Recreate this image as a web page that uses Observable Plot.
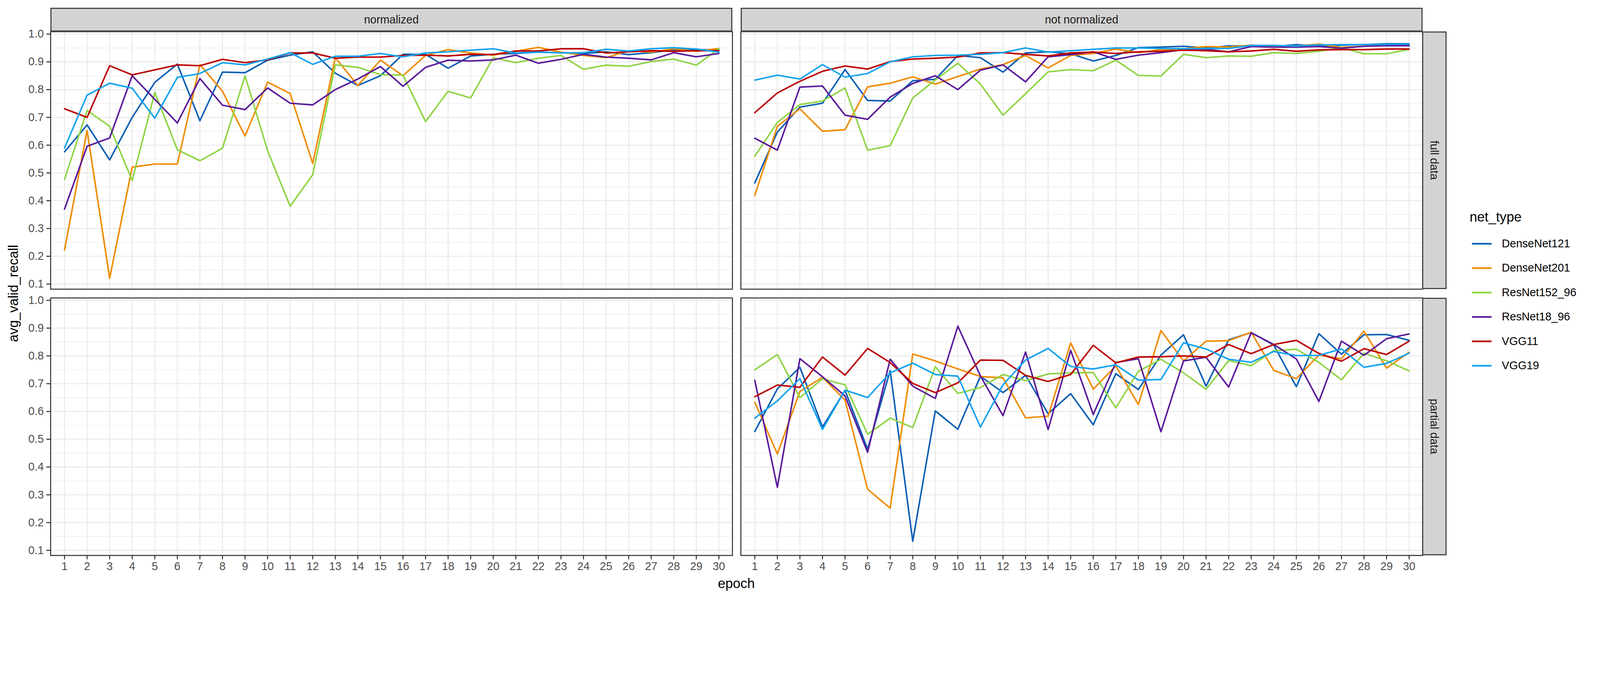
<!DOCTYPE html>
<html>
<head>
<meta charset="utf-8">
<script src="https://cdn.jsdelivr.net/npm/d3@7"></script>
<script src="https://cdn.jsdelivr.net/npm/@observablehq/plot@0.6"></script>
<style>
  html, body { margin: 0; background: white; font-family: "Liberation Sans", Arial, sans-serif; overflow: hidden; }
  #page { position: relative; width: 4724px; height: 1771px; background: white; transform-origin: 0 0; }
  .panel { position: absolute; }
  .strip { position: absolute; background: #d3d3d3; border: 3px solid #333; box-sizing: border-box;
           display: flex; align-items: center; justify-content: center; font-size: 33px; color: #1a1a1a; }
  .strip.v span { writing-mode: vertical-rl; }
  .lab { position: absolute; font-size: 40px; color: black; white-space: nowrap; }
  .key { position: absolute; font-size: 33px; color: black; display: flex; align-items: center; }
  .key i { display: inline-block; width: 58px; height: 5px; margin-right: 30px; }
</style>
</head>
<body>
<div id="page"></div>
<script>
const epochs = d3.range(1, 31);
const nets = ["DenseNet121", "DenseNet201", "ResNet152_96", "ResNet18_96", "VGG11", "VGG19"];
const netColors = ["#0a5fb4", "#f08c00", "#8fd444", "#5a1a9a", "#bb0000", "#14a3ee"];
const yTicks = [0.1, 0.2, 0.3, 0.4, 0.5, 0.6, 0.7, 0.8, 0.9, 1.0];
const yMinor = [0.15, 0.25, 0.35, 0.45, 0.55, 0.65, 0.75, 0.85, 0.95];

// normalized, full data
const normFull = {
  DenseNet121: [0.576,0.673,0.547,0.70,0.826,0.892,0.688,0.863,0.861,0.906,0.924,0.936,0.859,0.815,0.85,0.927,0.927,0.877,0.921,0.927,0.93,0.935,0.933,0.93,0.936,0.926,0.933,0.944,0.944,0.943],
  DenseNet201: [0.223,0.653,0.121,0.521,0.532,0.532,0.89,0.794,0.633,0.827,0.786,0.534,0.915,0.815,0.906,0.85,0.923,0.944,0.932,0.924,0.938,0.952,0.935,0.923,0.915,0.94,0.935,0.947,0.938,0.948],
  ResNet152_96: [0.477,0.725,0.668,0.473,0.79,0.584,0.544,0.589,0.85,0.58,0.38,0.494,0.889,0.88,0.854,0.852,0.685,0.794,0.77,0.915,0.897,0.913,0.923,0.873,0.888,0.884,0.901,0.91,0.888,0.947],
  ResNet18_96: [0.37,0.596,0.626,0.85,0.765,0.68,0.84,0.744,0.728,0.806,0.751,0.745,0.80,0.838,0.883,0.812,0.88,0.906,0.903,0.907,0.924,0.895,0.909,0.927,0.917,0.913,0.907,0.933,0.918,0.93],
  VGG11: [0.731,0.70,0.886,0.853,0.871,0.889,0.886,0.909,0.897,0.907,0.932,0.932,0.913,0.917,0.917,0.923,0.924,0.921,0.927,0.926,0.939,0.939,0.947,0.947,0.932,0.936,0.94,0.938,0.94,0.94],
  VGG19: [0.59,0.78,0.823,0.805,0.697,0.844,0.858,0.897,0.889,0.91,0.933,0.891,0.92,0.92,0.93,0.918,0.932,0.936,0.942,0.947,0.932,0.935,0.932,0.933,0.945,0.939,0.947,0.951,0.946,0.935]
};
// not normalized, full data
const rawFull = {
  DenseNet121: [0.464,0.647,0.737,0.751,0.872,0.761,0.759,0.832,0.837,0.923,0.915,0.863,0.932,0.936,0.929,0.903,0.923,0.951,0.953,0.956,0.95,0.957,0.957,0.955,0.962,0.957,0.96,0.962,0.965,0.965],
  DenseNet201: [0.419,0.668,0.731,0.65,0.656,0.81,0.823,0.846,0.82,0.847,0.874,0.89,0.923,0.878,0.923,0.93,0.946,0.933,0.944,0.947,0.955,0.953,0.96,0.957,0.957,0.964,0.952,0.956,0.962,0.96],
  ResNet152_96: [0.56,0.682,0.746,0.759,0.806,0.582,0.598,0.77,0.835,0.895,0.82,0.708,0.785,0.864,0.872,0.868,0.906,0.851,0.849,0.927,0.915,0.921,0.92,0.933,0.93,0.938,0.951,0.929,0.929,0.945],
  ResNet18_96: [0.625,0.582,0.809,0.813,0.708,0.693,0.773,0.822,0.85,0.80,0.87,0.889,0.828,0.918,0.926,0.936,0.909,0.924,0.933,0.944,0.945,0.936,0.955,0.953,0.953,0.955,0.949,0.956,0.958,0.958],
  VGG11: [0.717,0.788,0.83,0.866,0.885,0.874,0.901,0.91,0.913,0.917,0.932,0.933,0.927,0.921,0.932,0.935,0.93,0.936,0.938,0.942,0.94,0.936,0.939,0.945,0.938,0.943,0.944,0.944,0.946,0.946],
  VGG19: [0.834,0.852,0.838,0.89,0.845,0.858,0.90,0.918,0.923,0.924,0.927,0.933,0.95,0.935,0.94,0.945,0.95,0.95,0.948,0.947,0.948,0.948,0.959,0.959,0.957,0.961,0.962,0.962,0.963,0.964]
};
// not normalized, partial data
const rawPartial = {
  DenseNet121: [0.528,0.681,0.759,0.544,0.676,0.464,0.747,0.133,0.602,0.536,0.727,0.668,0.73,0.592,0.664,0.552,0.736,0.679,0.803,0.876,0.691,0.858,0.884,0.839,0.689,0.88,0.806,0.876,0.877,0.856],
  DenseNet201: [0.633,0.447,0.672,0.723,0.641,0.32,0.252,0.807,0.782,0.753,0.726,0.721,0.577,0.583,0.847,0.68,0.764,0.625,0.891,0.782,0.853,0.855,0.885,0.748,0.718,0.803,0.79,0.889,0.756,0.813],
  ResNet152_96: [0.75,0.805,0.65,0.717,0.696,0.518,0.576,0.542,0.761,0.665,0.686,0.733,0.711,0.735,0.739,0.74,0.613,0.745,0.788,0.739,0.68,0.783,0.765,0.819,0.824,0.777,0.714,0.81,0.782,0.746],
  ResNet18_96: [0.712,0.327,0.79,0.725,0.656,0.453,0.788,0.691,0.647,0.907,0.728,0.585,0.814,0.535,0.82,0.589,0.776,0.79,0.527,0.782,0.795,0.688,0.883,0.841,0.789,0.636,0.853,0.802,0.862,0.879],
  VGG11: [0.653,0.695,0.687,0.796,0.731,0.827,0.776,0.701,0.668,0.703,0.785,0.784,0.73,0.708,0.733,0.838,0.775,0.796,0.797,0.80,0.796,0.841,0.808,0.841,0.856,0.809,0.781,0.826,0.805,0.853],
  VGG19: [0.576,0.638,0.718,0.535,0.677,0.65,0.739,0.774,0.733,0.727,0.544,0.696,0.785,0.827,0.762,0.753,0.768,0.713,0.715,0.847,0.825,0.788,0.777,0.816,0.801,0.802,0.825,0.759,0.773,0.81]
};

function toRows(series) {
  if (!series) return [];
  return nets.flatMap(net => series[net].map((v, i) => ({net, epoch: epochs[i], value: v})));
}

const page = d3.select("#page");
// fit the 4724px layout into whatever the viewport really is
const fit = () => page.style("transform", `scale(${window.innerWidth / 4724})`);
fit();
window.addEventListener("resize", fit);

const W = 2013, H = 760;
const cols = [{x: 149, label: "normalized"}, {x: 2187, label: "not normalized"}];
const rows = [{y: 93, label: "full data"}, {y: 879, label: "partial data"}];
const panels = [
  {c: 0, r: 0, data: normFull},
  {c: 1, r: 0, data: rawFull},
  {c: 0, r: 1, data: null},
  {c: 1, r: 1, data: rawPartial}
];

panels.forEach(p => {
  const marks = [
    Plot.ruleY(yMinor, {stroke: "#ebebeb", strokeWidth: 1.6}),
    Plot.ruleY(yTicks, {stroke: "#ebebeb", strokeWidth: 3.2}),
    Plot.ruleX(epochs, {stroke: "#ebebeb", strokeWidth: 3.2}),
    Plot.line(toRows(p.data), {x: "epoch", y: "value", z: "net", stroke: "net", strokeWidth: 4.5}),
    Plot.frame({stroke: "#333333", strokeWidth: 3})
  ];
  if (p.c === 0) marks.push(Plot.axisY(yTicks, {label: null, tickSize: 12, tickPadding: 8, fontSize: 33, stroke: "#333333", strokeWidth: 3, fill: "#4d4d4d", tickFormat: d => d.toFixed(1)}));
  if (p.r === 1) marks.push(Plot.axisX(epochs, {label: null, tickSize: 12, tickPadding: 8, fontSize: 33, stroke: "#333333", strokeWidth: 3, fill: "#4d4d4d"}));
  const chart = Plot.plot({
    width: W, height: H, margin: 0,
    style: {overflow: "visible", fontFamily: "Liberation Sans, Arial, sans-serif", background: "white", maxWidth: "none"},
    x: {domain: [1, 30], range: [41, 1973], axis: null},
    y: {domain: [0.1, 1], range: [745, 7], axis: null},
    color: {domain: nets, range: netColors},
    marks
  });
  page.append("div").attr("class", "panel")
    .style("left", cols[p.c].x + "px").style("top", rows[p.r].y + "px")
    .append(() => chart);
});

cols.forEach(c => {
  page.append("div").attr("class", "strip")
    .style("left", c.x + "px").style("top", "23px").style("width", W + "px").style("height", "70px")
    .text(c.label);
});
rows.forEach(r => {
  page.append("div").attr("class", "strip v")
    .style("left", "4199px").style("top", r.y + "px").style("width", "72px").style("height", H + "px")
    .append("span").text(r.label);
});

page.append("div").attr("class", "lab").text("epoch")
  .style("left", "2174px").style("top", "1700px").style("transform", "translateX(-50%)");
page.append("div").attr("class", "lab").text("avg_valid_recall")
  .style("left", "40px").style("top", "866px").style("transform", "translate(-50%,-50%) rotate(-90deg)");

page.append("div").attr("class", "lab").text("net_type").style("left", "4339px").style("top", "618px");
nets.forEach((n, i) => {
  const k = page.append("div").attr("class", "key").style("left", "4346px").style("top", (700 + i * 72) + "px");
  k.append("i").style("background", netColors[i]);
  k.append("span").text(n);
});
</script>
</body>
</html>
